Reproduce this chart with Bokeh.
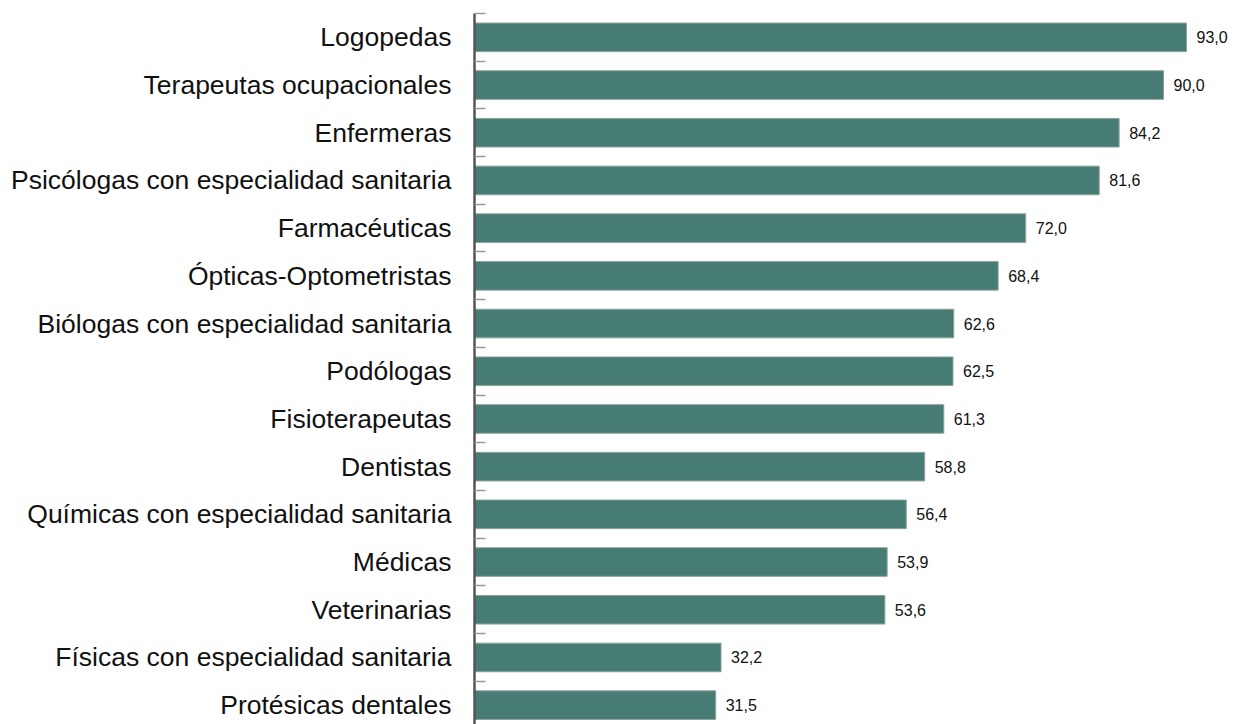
from bokeh.plotting import figure
from bokeh.models import Range1d, FixedTicker, ColumnDataSource
from bokeh.core.properties import value
from bokeh.embed import file_html
from bokeh.resources import INLINE

categories = [
    "Logopedas",
    "Terapeutas ocupacionales",
    "Enfermeras",
    "Psicólogas con especialidad sanitaria",
    "Farmacéuticas",
    "Ópticas-Optometristas",
    "Biólogas con especialidad sanitaria",
    "Podólogas",
    "Fisioterapeutas",
    "Dentistas",
    "Químicas con especialidad sanitaria",
    "Médicas",
    "Veterinarias",
    "Físicas con especialidad sanitaria",
    "Protésicas dentales",
]
values = [93.0, 90.0, 84.2, 81.6, 72.0, 68.4, 62.6, 62.5, 61.3, 58.8, 56.4, 53.9, 53.6, 32.2, 31.5]
value_labels = [f"{v:.1f}".replace(".", ",") for v in values]
positions = list(range(len(categories)))

src = ColumnDataSource(dict(y=positions, v=values, lab=value_labels))

p = figure(
    width=1236, height=724,
    frame_width=762, frame_height=711,
    min_border_left=474, min_border_right=0, min_border_top=13, min_border_bottom=0,
    x_range=Range1d(0, 99.53),
    y_range=Range1d(14.406, -0.5),
    output_backend="svg", toolbar_location=None,
)
p.outline_line_color = None
p.xaxis.visible = False
p.xgrid.visible = False
p.ygrid.visible = False

p.hbar(y="y", left=0, right="v", height=0.6, source=src,
       fill_color="#467c73", line_color="#8fa39e", line_width=1)

p.text(x="v", y="y", text="lab", source=src, x_offset=10,
       text_align="left", text_baseline="middle",
       text_font=value("Liberation Sans"), text_font_size="16px", text_color="#111111")

ax = p.yaxis[0]
ax.ticker = FixedTicker(ticks=positions, minor_ticks=[i - 0.5 for i in positions])
ax.major_label_overrides = {i: c for i, c in zip(positions, categories)}
ax.major_label_text_font = "Liberation Sans"
ax.major_label_text_font_size = "26.5px"
ax.major_label_text_color = "#111111"
ax.major_label_standoff = 23
ax.major_tick_line_color = None
ax.major_tick_in = 0
ax.major_tick_out = 0
ax.minor_tick_line_color = "#9a9a9a"
ax.minor_tick_line_width = 1.5
ax.minor_tick_in = 11
ax.minor_tick_out = 0
ax.axis_line_color = "#555555"
ax.axis_line_width = 2.5

open("out.html", "w").write(file_html(p, INLINE))
